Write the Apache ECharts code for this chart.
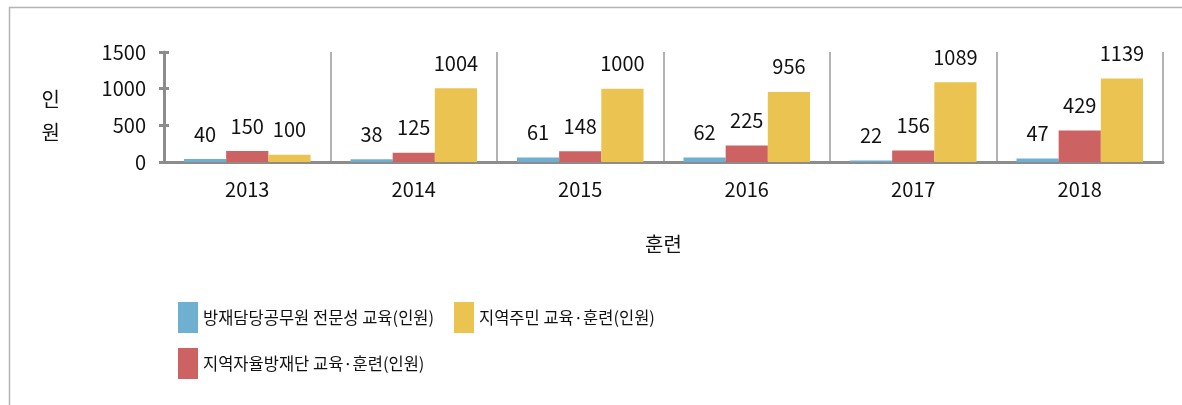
<!DOCTYPE html>
<html>
<head>
<meta charset="utf-8">
<script src="https://cdn.jsdelivr.net/npm/echarts@6/dist/echarts.min.js"></script>
<style>
  html, body { margin: 0; padding: 0; background: #fff; }
  #chart { width: 1182px; height: 405px; }
</style>
</head>
<body>
<div id="chart"></div>
<script>
// 연도 (x축 항목)
const years = ['2013', '2014', '2015', '2016', '2017', '2018']
// 방재담당공무원 전문성 교육(인원)
const officials = [40, 38, 61, 62, 22, 47]
// 지역자율방재단 교육·훈련(인원)
const volunteers = [150, 125, 148, 225, 156, 429]
// 지역주민 교육·훈련(인원)
const residents = [100, 1004, 1000, 956, 1089, 1139]

const font = '"Noto Sans CJK KR", "Noto Sans", sans-serif'
const axisGray = '#8c8c8c'

const chart = echarts.init(document.getElementById('chart'))

// 막대 시리즈 공통 설정
const makeBar = (name, data, color) => ({
    name: name,
    type: 'bar',
    data: data,
    barGap: '0%',
    barCategoryGap: '24%',
    itemStyle: { color: color },
    label: {
        show: true,
        position: 'top',
        distance: 15,
        color: '#111',
        fontSize: 20,
        fontFamily: font
    }
})

// 범례 항목 하나씩 위치 지정
const legendItem = (name, left, top) => ({
    data: [name],
    left: left,
    top: top,
    icon: 'rect',
    itemWidth: 20,
    itemHeight: 31,
    selectedMode: false,
    textStyle: { fontSize: 16.5, color: '#111', fontFamily: font }
})

const option = {
    animation: false,
    textStyle: { fontFamily: font },
    grid: { left: 164, right: 19, top: 52, bottom: 243 },
    // 바깥 테두리
    graphic: [{
        type: 'rect',
        shape: { x: 9.5, y: 7.5, width: 1200, height: 420 },
        style: { fill: 'none', stroke: '#b4b4b4', lineWidth: 1.5 },
        silent: true
    }],
    legend: [
        legendItem('방재담당공무원 전문성 교육(인원)', 173, 297),
        legendItem('지역주민 교육·훈련(인원)', 449, 297),
        legendItem('지역자율방재단 교육·훈련(인원)', 173, 343)
    ],
    xAxis: {
        type: 'category',
        data: years,
        name: '훈련',
        nameLocation: 'middle',
        nameGap: 72,
        nameTextStyle: { fontSize: 20, color: '#111', fontFamily: font },
        axisLine: { lineStyle: { color: axisGray, width: 3 } },
        axisTick: { show: false },
        axisLabel: { margin: 17, fontSize: 20, color: '#111', fontFamily: font },
        splitLine: { show: true, lineStyle: { color: '#9a9a9a', width: 1.5 } }
    },
    yAxis: [{
        type: 'value',
        min: 0,
        max: 1500,
        interval: 500,
        // 세로로 쌓은 축 제목 (윗줄 여백으로 조금 아래로)
        name: '{s| }\n{a|인}\n{a|원}',
        nameLocation: 'middle',
        nameRotate: 0,
        nameGap: 104,
        nameTextStyle: {
            fontSize: 20,
            color: '#111',
            fontFamily: font,
            rich: {
                s: { fontSize: 10, lineHeight: 18 },
                a: { fontSize: 20, lineHeight: 33, color: '#111', fontFamily: font }
            }
        },
        axisLine: { show: true, lineStyle: { color: axisGray, width: 3 } },
        axisTick: { show: true, length: 5, lineStyle: { color: axisGray, width: 3 } },
        axisLabel: {
            margin: 18,
            fontSize: 20,
            color: '#111',
            fontFamily: font,
            formatter: (v) => String(v)
        },
        splitLine: { show: false }
    }, {
        // 안쪽 눈금 (눈금이 축을 가로지르도록)
        type: 'value',
        position: 'left',
        min: 0,
        max: 1500,
        interval: 500,
        axisLine: { show: false },
        axisTick: { show: true, inside: true, length: 5, lineStyle: { color: axisGray, width: 3 } },
        axisLabel: { show: false },
        splitLine: { show: false }
    }],
    series: [
        makeBar('방재담당공무원 전문성 교육(인원)', officials, '#6fb0d1'),
        makeBar('지역자율방재단 교육·훈련(인원)', volunteers, '#cc6362'),
        makeBar('지역주민 교육·훈련(인원)', residents, '#ebc350')
    ]
}

chart.setOption(option)
</script>
</body>
</html>
